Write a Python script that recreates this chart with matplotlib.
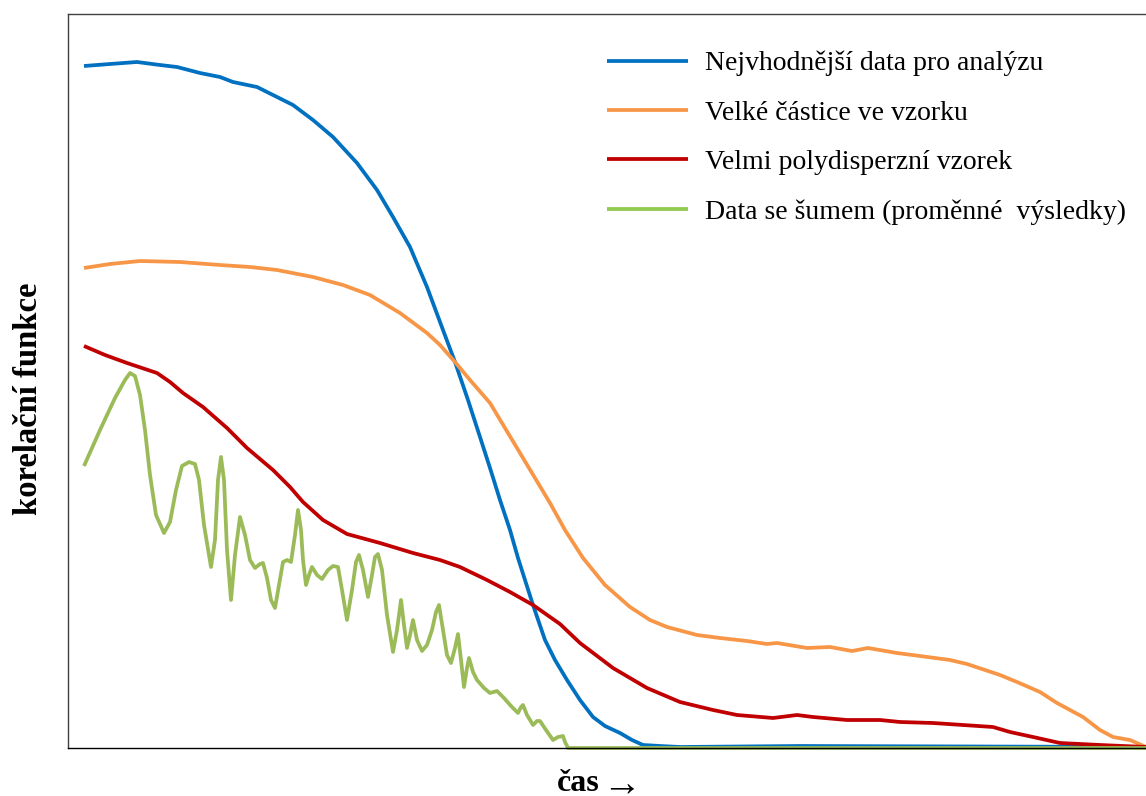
import matplotlib
matplotlib.use('agg')
import matplotlib.pyplot as plt

plt.rcParams['font.family'] = ['Liberation Serif', 'DejaVu Serif']

# values (time / correlation, arbitrary units)
labels = [
    "Nejvhodnější data pro analýzu",
    "Velké částice ve vzorku",
    "Velmi polydisperzní vzorek",
    "Data se šumem (proměnné  výsledky)",
]
colors = ["#0070C0", "#F79646", "#C00000", "#9BBB59"]
legend_colors = ["#0070C0", "#F79646", "#C00000", "#8FC94F"]

t_best = [16, 42, 69, 92, 109, 132, 152, 165, 189, 209, 225, 245, 265, 289, 309, 325,
          342, 359, 375, 387, 400, 412, 422, 432, 442, 450, 457, 465, 477, 487, 499,
          512, 525, 537, 552, 564, 575, 592, 612, 732, 1078]
g_best = [682, 684, 686, 683, 681, 675, 671, 666, 661, 651, 643, 628, 611, 585, 558, 531,
          501, 461, 418, 386, 348, 311, 280, 248, 218, 190, 168, 143, 108, 88, 68,
          48, 31, 22, 15, 8, 3, 2, 1, 2, 1]

t_large = [16, 42, 72, 112, 152, 182, 209, 245, 275, 302, 332, 359, 372, 387, 402, 422,
           437, 452, 467, 482, 497, 515, 537, 562, 582, 599, 629, 652, 679, 699, 709,
           739, 762, 784, 800, 829, 852, 882, 899, 932, 949, 972, 989, 1015, 1032,
           1045, 1062, 1078]
g_large = [480, 484, 487, 486, 483, 481, 478, 471, 463, 453, 435, 415, 403, 386, 368, 345,
           320, 295, 270, 245, 218, 190, 163, 141, 128, 121, 113, 110, 107, 104, 105,
           100, 101, 97, 100, 95, 92, 88, 84, 73, 66, 56, 45, 31, 18,
           11, 8, 1]

t_poly = [16, 37, 59, 89, 102, 115, 135, 159, 179, 205, 222, 235, 255, 279, 312, 345,
          372, 392, 419, 442, 465, 492, 512, 545, 579, 612, 645, 669, 705, 729, 745,
          779, 812, 832, 865, 925, 942, 965, 992, 1032, 1078]
g_poly = [402, 393, 385, 375, 366, 355, 341, 320, 300, 278, 261, 246, 228, 214, 205, 195,
          188, 181, 168, 156, 143, 124, 105, 80, 60, 46, 38, 33, 30, 33, 31,
          28, 28, 26, 25, 21, 16, 11, 5, 3, 1]

t_noise = [16, 32, 47, 57, 62, 67, 72, 77, 82, 88, 96, 102, 108, 114, 121, 127, 131, 136,
           143, 147, 150, 153, 156, 159, 163, 167, 172, 177, 182, 187, 192, 195, 199,
           203, 207, 211, 215, 219, 223, 227, 230, 233, 235, 238, 241, 244, 249, 254,
           260, 265, 270, 274, 279, 284, 288, 291, 295, 300, 304, 307, 310, 314, 319,
           325, 329, 333, 336, 339, 342, 345, 349, 354, 359, 364, 368, 371, 375, 379,
           383, 387, 390, 393, 396, 399, 401, 405, 409, 416, 422, 429, 436, 443, 450,
           453, 455, 459, 465, 469, 472, 478, 485, 490, 495, 497, 500, 1078]
g_noise = [282, 318, 350, 368, 375, 372, 353, 318, 273, 233, 215, 226, 258, 282, 286, 284, 268, 223,
           181, 208, 268, 291, 268, 198, 148, 193, 231, 213, 188, 180, 184, 185, 170,
           148, 140, 163, 186, 188, 186, 213, 238, 218, 188, 163, 173, 181, 173, 169,
           178, 182, 181, 158, 128, 158, 186, 193, 178, 151, 173, 191, 194, 178, 133,
           96, 118, 148, 123, 100, 113, 128, 108, 97, 103, 118, 136, 143, 118, 93,
           85, 100, 114, 88, 61, 80, 90, 76, 68, 60, 55, 57, 50, 42, 35,
           41, 43, 33, 23, 27, 27, 18, 8, 11, 12, 6, 0, 0]

series = [(t_best, g_best), (t_large, g_large), (t_poly, g_poly), (t_noise, g_noise)]

fig = plt.figure(figsize=(11.46, 7.96), dpi=100)
ax = fig.add_axes([68 / 1146, 48 / 796, 1 - 68 / 1146, 734 / 796])

for (t, g), c, lab in zip(series, colors, labels):
    ax.plot(t, g, color=c, lw=2.7, label=lab, clip_on=False,
            solid_joinstyle='round', solid_capstyle='butt')

ax.set_xlim(0, 1078)
ax.set_ylim(0, 734)
ax.set_xticks([])
ax.set_yticks([])
ax.spines['right'].set_visible(False)
for side in ['left', 'top']:
    ax.spines[side].set_color('#404040')
    ax.spines[side].set_linewidth(1.0)
ax.spines['bottom'].set_color('black')
ax.spines['bottom'].set_linewidth(1.0)

leg = ax.legend(loc='upper left', bbox_to_anchor=(539 / 1078, 697 / 734), frameon=False,
                fontsize=20, handlelength=2.92, handletextpad=0.62, labelspacing=0.86,
                borderpad=0, borderaxespad=0)
for line, c in zip(leg.get_lines(), legend_colors):
    line.set_linewidth(2.7)
    line.set_color(c)

fig.text(29 / 1146, 1 - 399 / 796, "korelační funkce", rotation=90, fontsize=23.5,
         fontweight='bold', ha='center', va='center')
fig.text(557 / 1146, 1 - 791 / 796, "čas", fontsize=23, fontweight='bold',
         ha='left', va='baseline')
fig.text(602 / 1146, 1 - 786 / 796, "→", fontsize=28, ha='left', va='center')

plt.savefig('out.png', dpi=100)
plt.close(fig)
